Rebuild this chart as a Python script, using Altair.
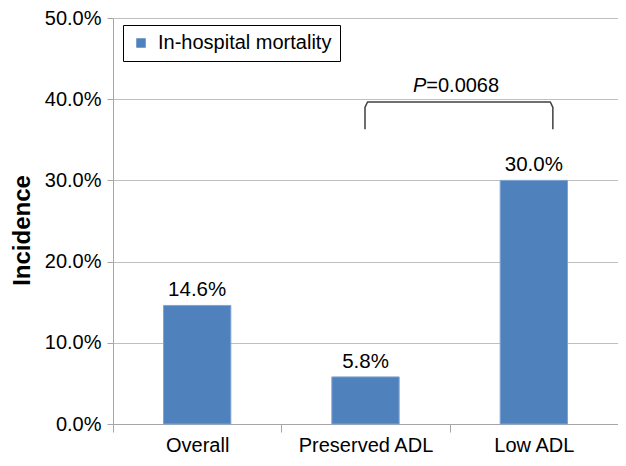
import altair as alt
import pandas as pd

# ---- data ----
categories = ["Overall", "Preserved ADL", "Low ADL"]
incidence = [0.146, 0.058, 0.300]
value_labels = ["14.6%", "5.8%", "30.0%"]
series_name = "In-hospital mortality"
y_ticks = [0.0, 0.1, 0.2, 0.3, 0.4, 0.5]

# significance bracket (x in category units 0..3, y in incidence)
bracket_x = [1.497, 1.497, 1.512, 2.598, 2.613, 2.613]
bracket_y = [0.363, 0.390, 0.3966, 0.3966, 0.390, 0.363]
p_label_x = [1.861]
p_label_y = [0.4087]
p_italic = ["P"]
p_rest = ["=0.0068"]

FONT = "Liberation Sans"
BAR = "#4F81BD"
GRID = "#BFBFBF"
AXIS = "#A6A6A6"
W, H = 505, 406

bars_df = pd.DataFrame({
    "category": categories,
    "incidence": incidence,
    "label": value_labels,
    "series": [series_name] * len(categories),
})
bracket_df = pd.DataFrame({
    "bx": bracket_x,
    "incidence": bracket_y,
    "order": list(range(len(bracket_x))),
})
p1_df = pd.DataFrame({"bx": p_label_x, "incidence": p_label_y, "t": p_italic})
p2_df = pd.DataFrame({"bx": p_label_x, "incidence": p_label_y, "t": p_rest})

y_scale = alt.Scale(domain=[0, 0.5], nice=False)
y_axis = alt.Axis(
    values=y_ticks, format=".1%", title="Incidence",
    titleFontSize=24, titleFont=FONT, titleFontWeight="bold", titleColor="black",
    titleX=-91, titleY=212, titleBaseline="middle", titleAngle=270,
    labelFontSize=20, labelFont=FONT, labelColor="black", labelPadding=6,
    tickSize=6, tickColor=AXIS, domainColor=AXIS,
    grid=True, gridColor=GRID, gridWidth=1,
)
x_scale_band = alt.Scale(paddingInner=0, paddingOuter=0)
x_band = alt.X(
    "category:N", sort=categories, scale=x_scale_band,
    axis=alt.Axis(
        title=None, labelFontSize=20, labelFont=FONT, labelColor="black",
        labelAngle=0, labelPadding=3, tickBand="extent", tickSize=8,
        tickColor=AXIS, domainColor=AXIS, grid=False,
    ),
)
x_band_noaxis = alt.X("category:N", sort=categories, scale=x_scale_band, axis=None)
x_units = alt.X("bx:Q", scale=alt.Scale(domain=[0, 3], nice=False, zero=False), axis=None)

bars = alt.Chart(bars_df).mark_bar(
    width=alt.RelativeBandSize(0.4), stroke="#7FA4D3", strokeWidth=1
).encode(
    x=x_band,
    y=alt.Y("incidence:Q", scale=y_scale, axis=y_axis),
    color=alt.Color(
        "series:N", scale=alt.Scale(range=[BAR]),
        legend=alt.Legend(
            title=None, orient="none", legendX=10, legendY=7,
            strokeColor="black", fillColor="white", padding=8,
            symbolType="square", symbolSize=90, symbolStrokeWidth=0,
            labelFontSize=20, labelFont=FONT, labelColor="black",
            labelOffset=7, labelLimit=400, cornerRadius=0,
        ),
    ),
)

labels = alt.Chart(bars_df).mark_text(
    dy=-9, fontSize=20.5, font=FONT, color="black", baseline="alphabetic"
).encode(
    x=x_band_noaxis,
    y=alt.Y("incidence:Q", scale=y_scale, axis=y_axis),
    text="label:N",
)

bracket = alt.Chart(bracket_df).mark_line(
    color="#404040", strokeWidth=1.5, strokeJoin="round"
).encode(
    x=x_units,
    y=alt.Y("incidence:Q", scale=y_scale, axis=y_axis),
    order="order:O",
)

p1 = alt.Chart(p1_df).mark_text(
    fontSize=20, font=FONT, fontStyle="italic", color="black",
    align="right", baseline="alphabetic"
).encode(
    x=x_units,
    y=alt.Y("incidence:Q", scale=y_scale, axis=y_axis),
    text="t:N",
)
p2 = alt.Chart(p2_df).mark_text(
    fontSize=20, font=FONT, color="black", align="left", baseline="alphabetic"
).encode(
    x=x_units,
    y=alt.Y("incidence:Q", scale=y_scale, axis=y_axis),
    text="t:N",
)

chart = alt.layer(bars, labels, bracket, p1, p2).resolve_scale(
    x="independent"
).properties(
    width=W, height=H,
    autosize=alt.AutoSizeParams(type="none"),
    padding={"left": 105, "top": 10, "right": 0, "bottom": 34},
    background="white",
).configure_view(stroke=None)

chart.save("out.html", embed_options={"renderer": "svg", "actions": False})
